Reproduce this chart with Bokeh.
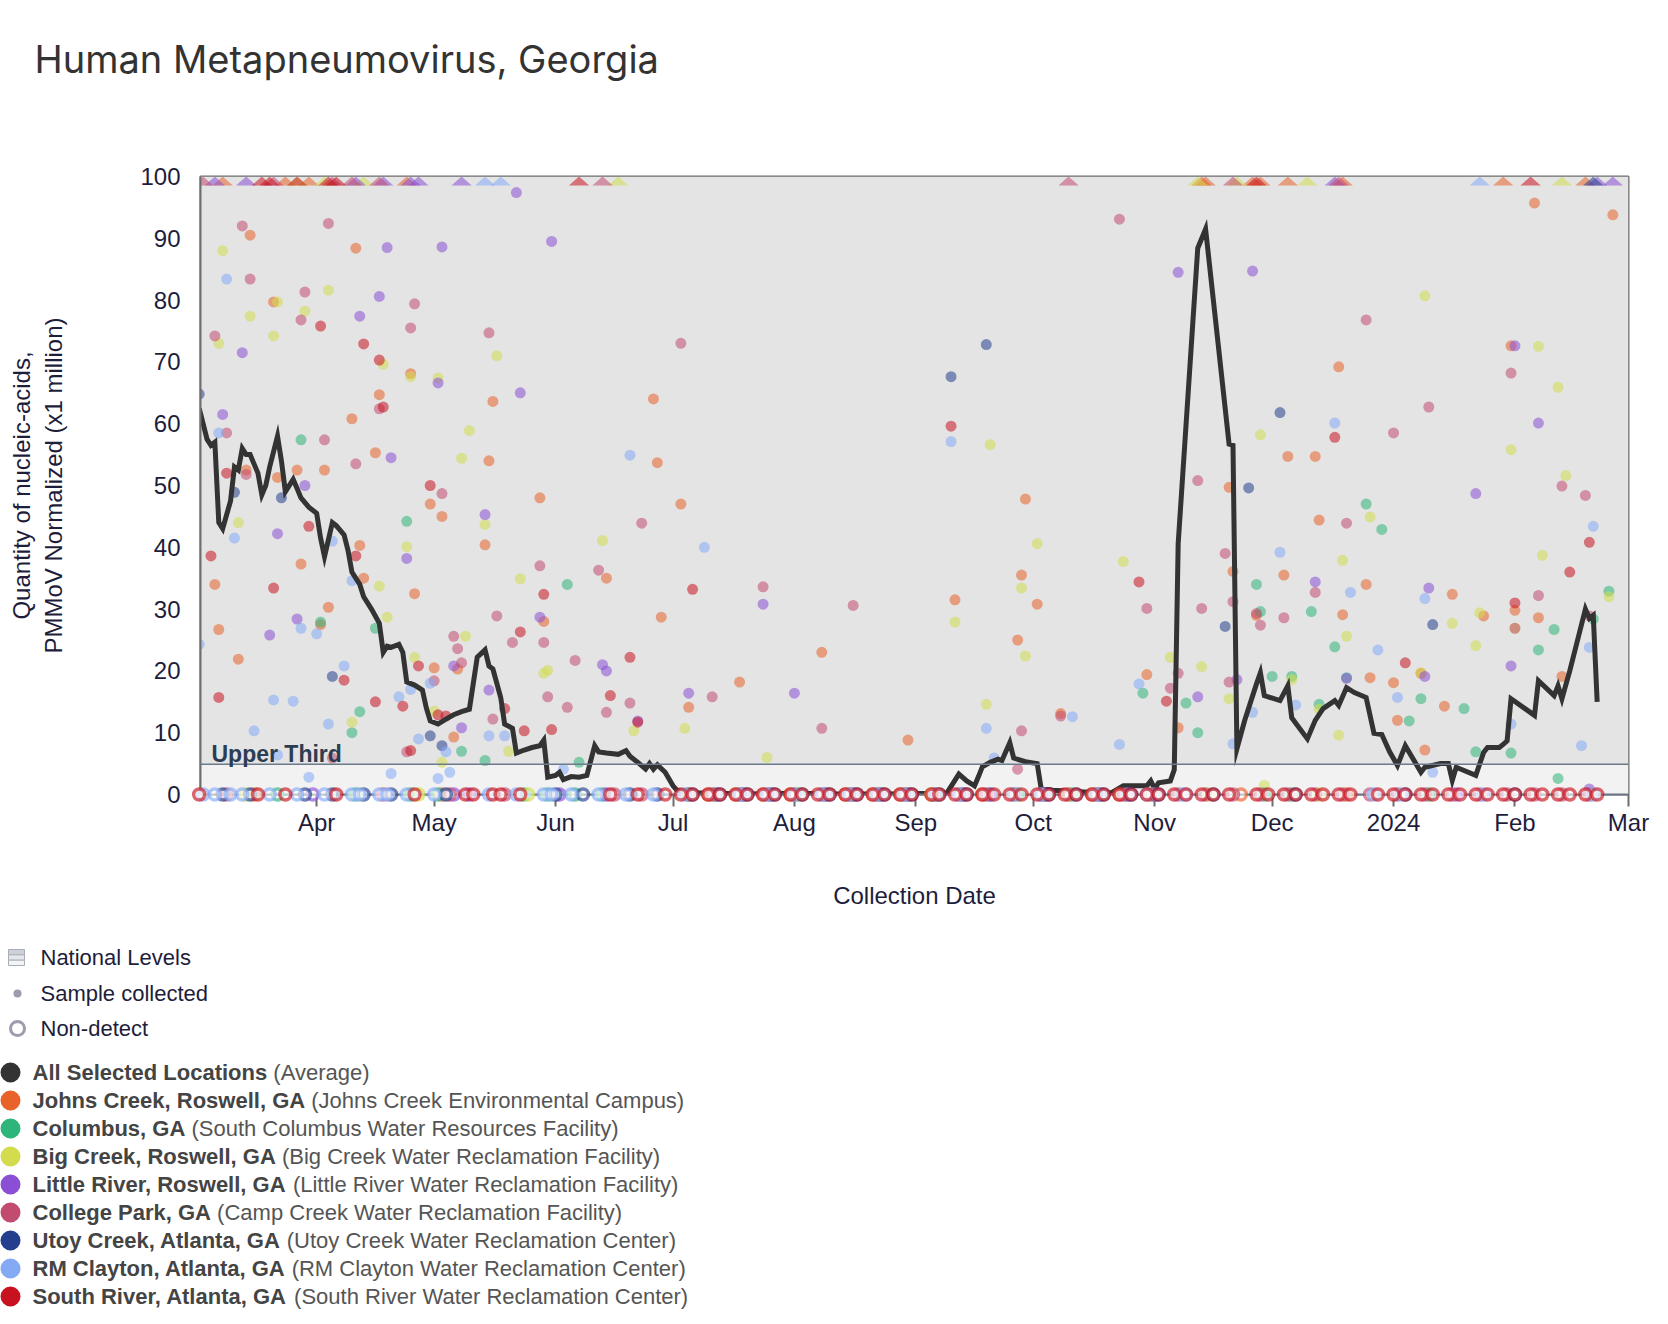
from datetime import datetime
from bokeh.plotting import figure
from bokeh.models import Range1d, FixedTicker, BoxAnnotation, Span, Label, DatetimeTickFormatter
from bokeh.layouts import column
from bokeh.embed import file_html
from bokeh.resources import INLINE
from bokeh.core.properties import value

# ---------------- text ----------------
TITLE = "Human Metapneumovirus, Georgia"
Y_LABEL = "Quantity of nucleic-acids,\nPMMoV Normalized (x1 million)"
X_LABEL = "Collection Date"
UPPER_THIRD_TEXT = "Upper Third"

# ---------------- axes ----------------
X_START = "2023-03-02T08:00"
X_END = "2024-03-01"
Y_TICKS = [0, 10, 20, 30, 40, 50, 60, 70, 80, 90, 100]
X_TICK_DATES = ["2023-04-01", "2023-05-01", "2023-06-01", "2023-07-01", "2023-08-01", "2023-09-01",
                "2023-10-01", "2023-11-01", "2023-12-01", "2024-01-01", "2024-02-01", "2024-03-01"]
X_TICK_LABELS = ["Apr", "May", "Jun", "Jul", "Aug", "Sep", "Oct", "Nov", "Dec", "2024", "Feb", "Mar"]
UPPER_THIRD = 4.9

# ---------------- average line ----------------
average = [("2023-03-02",62.5),("2023-03-04",57.5),("2023-03-05",56.5),("2023-03-06",57.0),("2023-03-07",44.0),
    ("2023-03-08",43.0),("2023-03-10",47.5),("2023-03-11",53.0),("2023-03-12",52.5),("2023-03-13",56.0),
    ("2023-03-14",55.0),("2023-03-15",55.0),("2023-03-17",52.0),("2023-03-18",48.5),("2023-03-19",50.0),
    ("2023-03-20",53.0),("2023-03-22",58.0),("2023-03-23",54.0),("2023-03-24",49.0),("2023-03-26",51.0),
    ("2023-03-27",49.5),("2023-03-28",48.0),("2023-03-30",46.5),("2023-04-01",45.5),("2023-04-02",41.5),
    ("2023-04-03",38.5),("2023-04-05",44.0),("2023-04-06",43.5),("2023-04-08",42.0),("2023-04-09",39.5),
    ("2023-04-10",36.0),("2023-04-12",34.0),("2023-04-13",32.0),("2023-04-15",30.0),("2023-04-17",27.7),
    ("2023-04-18",23.0),("2023-04-19",24.0),("2023-04-20",23.8),("2023-04-22",24.3),("2023-04-23",23.0),
    ("2023-04-24",18.2),("2023-04-26",17.7),("2023-04-28",16.9),("2023-04-29",14.0),("2023-04-30",11.9),
    ("2023-05-02",11.4),("2023-05-04",12.2),("2023-05-06",12.9),("2023-05-08",13.4),("2023-05-10",13.8),
    ("2023-05-12",22.2),("2023-05-14",23.4),("2023-05-15",20.8),("2023-05-16",20.3),("2023-05-18",15.7),
    ("2023-05-19",11.4),("2023-05-21",10.7),("2023-05-22",6.7),("2023-05-24",7.2),("2023-05-26",7.6),
    ("2023-05-28",7.9),("2023-05-29",8.8),("2023-05-30",2.8),("2023-06-01",3.1),("2023-06-02",3.6),
    ("2023-06-03",2.4),("2023-06-05",2.9),("2023-06-07",2.8),("2023-06-09",3.1),("2023-06-11",7.9),
    ("2023-06-12",6.9),("2023-06-14",6.7),("2023-06-17",6.5),("2023-06-19",7.1),("2023-06-20",6.2),
    ("2023-06-22",5.2),("2023-06-24",4.1),("2023-06-25",5.0),("2023-06-26",4.1),("2023-06-27",4.8),
    ("2023-06-29",3.6),("2023-07-01",1.4),("2023-07-02",0.7),("2023-07-05",0.3),("2023-07-12",0.2),
    ("2023-07-20",0.1),("2023-08-01",0.2),("2023-08-12",0.1),("2023-08-25",0.1),("2023-09-05",0.2),
    ("2023-09-09",0.3),("2023-09-12",3.3),("2023-09-14",2.2),("2023-09-16",1.4),("2023-09-17",2.9),
    ("2023-09-18",4.5),("2023-09-20",5.2),("2023-09-22",5.7),("2023-09-23",5.5),("2023-09-25",8.4),
    ("2023-09-26",5.9),("2023-09-29",5.3),("2023-10-02",5.0),("2023-10-03",1.0),("2023-10-06",0.7),
    ("2023-10-12",0.5),("2023-10-17",0.3),("2023-10-21",0.3),("2023-10-24",1.4),("2023-10-30",1.4),
    ("2023-10-31",2.2),("2023-11-01",0.9),("2023-11-02",1.9),("2023-11-05",2.2),("2023-11-06",4.0),
    ("2023-11-07",40.6),("2023-11-12",88.4),("2023-11-14",91.5),("2023-11-20",56.7),("2023-11-21",56.5),
    ("2023-11-22",7.4),("2023-11-24",12.0),("2023-11-27",17.9),("2023-11-28",19.7),("2023-11-29",16.0),
    ("2023-12-03",15.2),("2023-12-05",17.6),("2023-12-06",12.4),("2023-12-10",9.0),("2023-12-12",12.0),
    ("2023-12-14",13.9),("2023-12-17",15.2),("2023-12-18",14.4),("2023-12-20",17.3),("2023-12-22",16.5),
    ("2023-12-25",15.7),("2023-12-27",9.9),("2023-12-29",9.7),("2023-12-31",6.9),("2024-01-02",4.7),
    ("2024-01-04",7.9),("2024-01-08",3.6),("2024-01-09",4.4),("2024-01-13",5.0),("2024-01-15",5.0),
    ("2024-01-16",2.3),("2024-01-17",4.4),("2024-01-22",3.1),("2024-01-24",6.8),("2024-01-25",7.6),
    ("2024-01-28",7.6),("2024-01-29",8.1),("2024-01-30",8.7),("2024-01-31",15.5),("2024-02-06",12.8),
    ("2024-02-07",18.4),("2024-02-11",16.0),("2024-02-12",17.6),("2024-02-13",15.5),("2024-02-15",20.0),
    ("2024-02-17",25.0),("2024-02-19",30.0),("2024-02-20",28.5),("2024-02-21",29.0),("2024-02-22",15.0)]

# ---------------- sites: detections (date, value) ----------------
johns_creek = [("2023-03-06",34.0),("2023-03-07",26.7),("2023-03-12",21.9),("2023-03-14",52.5),("2023-03-15",90.5),
    ("2023-03-21",79.7),("2023-03-22",51.3),("2023-03-27",52.5),("2023-03-28",37.3),("2023-04-02",27.5),
    ("2023-04-03",52.5),("2023-04-04",30.3),("2023-04-10",60.8),("2023-04-11",88.4),("2023-04-12",40.3),
    ("2023-04-13",35.0),("2023-04-16",55.3),("2023-04-17",64.7),("2023-04-25",68.1),("2023-04-26",32.5),
    ("2023-04-30",47.0),("2023-05-01",20.5),("2023-05-03",45.0),("2023-05-06",9.3),("2023-05-07",20.3),
    ("2023-05-14",40.4),("2023-05-15",54.0),("2023-05-16",63.6),("2023-05-28",48.0),("2023-05-29",28.0),
    ("2023-06-14",35.0),("2023-06-26",64.0),("2023-06-27",53.7),("2023-06-28",28.7),("2023-07-03",47.0),
    ("2023-07-05",14.1),("2023-07-18",18.2),("2023-08-08",23.0),("2023-08-30",8.8),("2023-09-11",31.5),
    ("2023-09-27",25.0),("2023-09-28",35.5),("2023-09-29",47.8),("2023-10-02",30.8),("2023-10-08",13.1),
    ("2023-10-30",19.4),("2023-11-07",10.8),("2023-11-20",49.7),("2023-11-21",36.1),("2023-11-27",29.0),
    ("2023-12-04",35.5),("2023-12-05",54.7),("2023-12-12",54.7),("2023-12-13",44.4),("2023-12-18",69.2),
    ("2023-12-19",29.1),("2023-12-25",34.0),("2023-12-26",18.9),("2024-01-01",18.1),("2024-01-02",12.0),
    ("2024-01-08",19.6),("2024-01-09",7.2),("2024-01-14",14.3),("2024-01-16",32.4),("2024-01-24",28.9),
    ("2024-01-31",72.6),("2024-02-01",29.8),("2024-02-06",95.7),("2024-02-07",28.6),("2024-02-13",19.1),
    ("2024-02-26",93.8)]
columbus = [("2023-03-28",57.4),("2023-04-02",27.9),("2023-04-10",10.0),("2023-04-12",13.4),("2023-04-16",26.9),
    ("2023-04-24",44.2),("2023-05-08",7.0),("2023-05-14",5.5),("2023-06-04",34.0),("2023-06-07",5.2),
    ("2023-10-29",16.4),("2023-11-09",14.8),("2023-11-12",10.0),("2023-11-27",34.0),("2023-11-28",29.6),
    ("2023-12-01",19.1),("2023-12-06",19.1),("2023-12-11",29.6),("2023-12-13",14.6),("2023-12-17",23.9),
    ("2023-12-20",18.9),("2023-12-25",47.0),("2023-12-29",42.9),("2024-01-05",11.9),("2024-01-08",15.5),
    ("2024-01-19",13.9),("2024-01-22",6.9),("2024-01-31",6.7),("2024-02-07",23.4),("2024-02-11",26.7),
    ("2024-02-12",2.6),("2024-02-21",28.4),("2024-02-25",32.9)]
big_creek = [("2023-03-07",73.0),("2023-03-08",88.0),("2023-03-12",44.0),("2023-03-15",77.4),("2023-03-21",74.2),
    ("2023-03-22",79.7),("2023-03-29",78.2),("2023-04-04",81.6),("2023-04-10",11.7),("2023-04-17",33.7),
    ("2023-04-18",69.6),("2023-04-19",28.7),("2023-04-24",40.1),("2023-04-25",67.6),("2023-04-26",22.2),
    ("2023-05-01",13.5),("2023-05-02",67.4),("2023-05-03",5.2),("2023-05-08",54.4),("2023-05-09",25.6),
    ("2023-05-10",58.9),("2023-05-14",43.7),("2023-05-17",71.0),("2023-05-20",7.0),("2023-05-23",34.9),
    ("2023-05-29",19.6),("2023-05-30",20.1),("2023-06-13",41.1),("2023-06-21",10.3),("2023-07-04",10.7),
    ("2023-07-25",6.0),("2023-09-11",27.9),("2023-09-19",14.6),("2023-09-20",56.6),("2023-09-28",33.4),
    ("2023-09-29",22.4),("2023-10-02",40.6),("2023-10-24",37.7),("2023-11-05",22.2),("2023-11-13",20.7),
    ("2023-11-20",15.5),("2023-11-28",58.2),("2023-11-29",1.5),("2023-12-06",18.6),("2023-12-13",13.8),
    ("2023-12-18",9.6),("2023-12-19",37.9),("2023-12-20",25.6),("2023-12-26",44.9),("2024-01-08",19.7),
    ("2024-01-09",80.7),("2024-01-16",27.7),("2024-01-22",24.1),("2024-01-23",29.4),("2024-01-31",55.8),
    ("2024-02-01",26.9),("2024-02-07",72.5),("2024-02-08",38.7),("2024-02-12",65.9),("2024-02-14",51.6),
    ("2024-02-25",32.0)]
little_river = [("2023-03-08",61.5),("2023-03-13",71.5),("2023-03-20",25.8),("2023-03-22",42.2),("2023-03-27",28.4),
    ("2023-03-29",50.0),("2023-04-12",77.4),("2023-04-17",80.6),("2023-04-19",88.5),("2023-04-20",54.5),
    ("2023-04-24",38.2),("2023-05-02",66.6),("2023-05-03",88.6),("2023-05-06",20.8),("2023-05-08",10.8),
    ("2023-05-14",45.3),("2023-05-15",16.9),("2023-05-22",97.4),("2023-05-23",65.0),("2023-05-28",28.7),
    ("2023-05-31",89.5),("2023-06-13",21.0),("2023-06-14",20.0),("2023-06-22",11.9),("2023-07-05",16.4),
    ("2023-07-24",30.8),("2023-08-01",16.4),("2023-11-07",84.5),("2023-11-12",15.8),("2023-11-22",18.6),
    ("2023-11-26",84.7),("2023-12-12",34.4),("2023-12-20",18.8),("2024-01-09",19.1),("2024-01-10",33.4),
    ("2024-01-22",48.7),("2024-01-31",20.8),("2024-02-01",72.6),("2024-02-07",60.1),("2024-02-20",0.9)]
college_park = [("2023-03-06",74.2),("2023-03-09",58.5),("2023-03-13",92.0),("2023-03-14",51.8),("2023-03-15",83.4),
    ("2023-03-28",76.8),("2023-03-29",81.3),("2023-04-03",57.4),("2023-04-04",92.4),("2023-04-05",5.9),
    ("2023-04-11",53.5),("2023-04-17",62.4),("2023-04-24",6.9),("2023-04-25",75.5),("2023-04-26",79.4),
    ("2023-05-01",18.4),("2023-05-03",48.7),("2023-05-06",25.6),("2023-05-07",23.6),("2023-05-08",21.3),
    ("2023-05-15",74.7),("2023-05-16",12.2),("2023-05-17",28.9),("2023-05-21",24.6),("2023-05-28",37.0),
    ("2023-05-29",24.6),("2023-05-30",15.8),("2023-06-04",14.1),("2023-06-06",21.7),("2023-06-12",36.3),
    ("2023-06-14",13.3),("2023-06-20",14.8),("2023-06-23",43.9),("2023-07-03",73.0),("2023-07-11",15.8),
    ("2023-07-24",33.6),("2023-08-08",10.7),("2023-08-16",30.6),("2023-09-27",4.1),("2023-09-28",10.3),
    ("2023-10-08",12.7),("2023-10-23",93.1),("2023-10-30",30.1),("2023-11-05",17.2),("2023-11-07",19.6),
    ("2023-11-12",50.8),("2023-11-13",30.1),("2023-11-19",39.0),("2023-11-20",18.2),("2023-11-21",31.2),
    ("2023-11-27",29.3),("2023-11-28",27.4),("2023-12-04",28.6),("2023-12-12",32.7),("2023-12-20",43.9),
    ("2023-12-25",76.8),("2024-01-01",58.5),("2024-01-10",62.7),("2024-01-31",68.2),("2024-02-01",26.9),
    ("2024-02-07",32.2),("2024-02-13",49.9),("2024-02-19",48.4),("2024-02-20",28.9)]
utoy_creek = [("2023-03-02",64.8),("2023-03-11",48.9),("2023-03-23",48.0),("2023-04-05",19.1),("2023-04-30",9.5),
    ("2023-05-03",7.9),("2023-09-10",67.6),("2023-09-19",72.8),("2023-11-19",27.2),("2023-11-25",49.6),
    ("2023-12-03",61.8),("2024-01-11",27.5)]
rm_clayton = [("2023-03-02",24.3),("2023-03-07",58.5),("2023-03-09",83.4),("2023-03-11",41.5),("2023-03-16",10.3),
    ("2023-03-21",15.3),("2023-03-22",6.4),("2023-03-26",15.1),("2023-03-28",26.9),("2023-03-30",2.8),
    ("2023-04-01",26.0),("2023-04-04",11.4),("2023-04-05",41.0),("2023-04-08",20.8),("2023-04-10",34.6),
    ("2023-04-20",3.4),("2023-04-22",15.8),("2023-04-25",17.0),("2023-04-27",9.0),("2023-04-30",18.0),
    ("2023-05-02",2.6),("2023-05-04",6.9),("2023-05-05",3.6),("2023-05-15",9.5),("2023-05-19",9.5),
    ("2023-06-03",4.1),("2023-06-20",54.9),("2023-07-09",40.0),("2023-09-10",57.1),("2023-09-19",10.7),
    ("2023-09-21",5.9),("2023-10-11",12.6),("2023-10-23",8.1),("2023-10-28",17.9),("2023-11-21",8.2),
    ("2023-11-26",13.3),("2023-12-03",39.2),("2023-12-07",14.5),("2023-12-17",60.1),("2023-12-21",32.7),
    ("2023-12-28",23.4),("2024-01-02",15.7),("2024-01-09",31.7),("2024-01-11",3.6),("2024-01-31",11.4),
    ("2024-02-18",7.9),("2024-02-20",23.8),("2024-02-21",43.4)]
south_river = [("2023-03-05",38.6),("2023-03-07",15.7),("2023-03-09",52.0),("2023-03-21",33.4),("2023-03-30",43.4),
    ("2023-04-02",75.8),("2023-04-08",18.5),("2023-04-11",38.6),("2023-04-13",72.9),("2023-04-16",15.0),
    ("2023-04-17",70.3),("2023-04-18",62.7),("2023-04-23",14.3),("2023-04-25",7.1),("2023-04-27",20.8),
    ("2023-04-30",50.0),("2023-05-02",12.9),("2023-05-04",12.7),("2023-05-19",13.9),("2023-05-23",26.3),
    ("2023-05-24",10.3),("2023-05-29",32.4),("2023-05-31",10.5),("2023-06-15",16.0),("2023-06-20",22.2),
    ("2023-06-22",11.7),("2023-07-06",33.2),("2023-09-10",59.6),("2023-10-28",34.4),("2023-11-04",15.1),
    ("2023-12-17",57.8),("2024-01-04",21.3),("2024-02-01",31.0),("2024-02-15",36.0),("2024-02-20",40.8)]

# ---------------- sites: values above 100 (dates) ----------------
johns_creek_over = ["2023-03-08","2023-03-24","2023-03-30","2023-04-24","2023-11-13","2023-11-14","2023-11-26",
                    "2023-11-28","2023-12-05","2023-12-19","2024-01-29","2024-02-19"]
south_river_over = ["2023-03-18","2023-03-20","2023-03-27","2023-04-04","2023-04-06","2023-06-07","2023-11-27","2024-02-05"]
college_park_over = ["2023-03-03","2023-03-21","2023-04-05","2023-04-10","2023-04-17","2023-06-13","2023-10-10",
                     "2023-11-21","2023-12-18"]
little_river_over = ["2023-03-06","2023-03-14","2023-04-11","2023-04-18","2023-04-25","2023-04-27","2023-05-08",
                     "2023-12-17","2024-02-22","2024-02-26"]
big_creek_over = ["2023-03-27","2023-04-03","2023-04-13","2023-06-17","2023-11-12","2023-11-22","2023-12-10","2024-02-13"]
rm_clayton_over = ["2023-05-14","2023-05-18","2024-01-23"]
utoy_creek_over = ["2024-02-21"]
columbus_over = []

# ---------------- sites: non-detects (dates) ----------------
south_river_nd = ["2023-03-02","2023-03-17","2023-03-24","2023-04-06","2023-04-26","2023-05-09","2023-05-11","2023-05-16",
    "2023-05-18","2023-05-23","2023-06-15","2023-06-22","2023-06-29","2023-07-03","2023-07-06","2023-07-10","2023-07-13",
    "2023-07-17","2023-07-20","2023-07-24","2023-07-27","2023-07-31","2023-08-03","2023-08-07","2023-08-10","2023-08-14",
    "2023-08-17","2023-08-21","2023-08-24","2023-08-28","2023-08-31","2023-09-05","2023-09-07","2023-09-11","2023-09-14",
    "2023-09-18","2023-09-21","2023-09-25","2023-09-28","2023-10-02","2023-10-05","2023-10-09","2023-10-12","2023-10-16",
    "2023-10-19","2023-10-23","2023-10-26","2023-10-30","2023-11-02","2023-11-06","2023-11-09","2023-11-13","2023-11-16",
    "2023-11-20","2023-11-27","2023-11-30","2023-12-04","2023-12-07","2023-12-11","2023-12-14","2023-12-18","2023-12-21",
    "2023-12-28","2024-01-01","2024-01-04","2024-01-08","2024-01-11","2024-01-15","2024-01-18","2024-01-22","2024-01-25",
    "2024-01-29","2024-02-01","2024-02-05","2024-02-08","2024-02-12","2024-02-15","2024-02-19","2024-02-22"]
college_park_nd = ["2023-03-09","2023-04-18","2023-05-05","2023-05-19","2023-06-16","2023-06-23","2023-07-05","2023-07-11",
    "2023-07-18","2023-07-25","2023-08-01","2023-08-08","2023-08-15","2023-08-22","2023-08-29","2023-09-06","2023-09-12",
    "2023-09-19","2023-09-26","2023-10-03","2023-10-10","2023-10-17","2023-10-24","2023-10-31","2023-11-07","2023-11-14",
    "2023-11-21","2023-11-28","2023-12-05","2023-12-12","2023-12-19","2023-12-26","2024-01-02","2024-01-09","2024-01-16",
    "2024-01-23","2024-01-30","2024-02-06","2024-02-13","2024-02-20"]
rm_clayton_nd = ["2023-03-03","2023-03-06","2023-03-10","2023-03-13","2023-03-20","2023-03-27","2023-04-03","2023-04-10",
    "2023-04-12","2023-04-17","2023-04-19","2023-04-24","2023-05-01","2023-05-15","2023-05-22","2023-05-29","2023-05-31",
    "2023-06-05","2023-06-12","2023-06-19","2023-06-26","2023-07-04","2023-07-18","2023-07-25","2023-08-01","2023-08-08",
    "2023-08-15","2023-08-22","2023-08-29","2023-09-06","2023-09-12","2023-09-26","2023-10-03","2023-10-17","2023-10-30",
    "2023-11-08","2023-11-09","2023-12-27","2024-01-03","2024-01-24","2024-02-21"]
utoy_creek_nd = ["2023-03-08","2023-03-15","2023-03-29","2023-04-05","2023-04-13","2023-04-20","2023-05-04","2023-06-01",
    "2023-06-08","2023-06-20","2023-06-27","2023-07-06","2023-07-13","2023-07-20","2023-07-27","2023-08-03","2023-08-10",
    "2023-08-17","2023-08-24","2023-08-31","2023-09-07","2023-09-14","2023-10-05","2023-10-12","2023-10-19","2023-10-26",
    "2023-11-02","2023-11-16","2023-12-07","2024-01-04","2024-02-01"]
columbus_nd = ["2023-03-22","2023-04-11","2023-04-25","2023-05-02","2023-05-24","2023-05-30","2023-06-06","2023-06-13",
    "2023-07-05","2023-07-12","2023-07-19","2023-07-26","2023-08-02","2023-08-09","2023-08-16","2023-08-23","2023-08-30",
    "2023-09-06","2023-09-13","2023-09-20","2023-09-27","2023-10-04","2023-10-11","2023-10-18","2023-10-25","2023-11-01",
    "2023-11-29","2023-12-06","2024-01-10"]
big_creek_nd = ["2023-03-14","2023-04-27","2023-05-25","2023-07-11","2023-07-18","2023-08-01","2023-08-15","2023-08-22",
    "2023-08-29","2023-09-05","2023-10-10","2023-10-17","2023-10-31","2023-11-15","2023-12-13"]
little_river_nd = ["2023-03-31","2023-05-06","2023-05-10","2023-06-02","2023-06-14","2023-07-12","2023-07-19","2023-07-26",
    "2023-08-09","2023-08-16","2023-08-23","2023-08-30","2023-09-13","2023-09-20","2023-10-04","2023-10-18","2023-10-25",
    "2023-11-01","2024-01-17"]
johns_creek_nd = ["2023-03-16","2023-05-03","2023-07-10","2023-07-17","2023-07-24","2023-07-31","2023-08-14","2023-08-21",
    "2023-08-28","2023-09-05","2023-09-18","2023-10-16","2023-10-23","2023-11-23","2023-12-20"]

# ---------------- legend ----------------
site_names = ["Johns Creek, Roswell, GA", "Columbus, GA", "Big Creek, Roswell, GA", "Little River, Roswell, GA",
              "College Park, GA", "Utoy Creek, Atlanta, GA", "RM Clayton, Atlanta, GA", "South River, Atlanta, GA"]
site_plants = ["(Johns Creek Environmental Campus)", "(South Columbus Water Resources Facility)",
               "(Big Creek Water Reclamation Facility)", "(Little River Water Reclamation Facility)",
               "(Camp Creek Water Reclamation Facility)", "(Utoy Creek Water Reclamation Center)",
               "(RM Clayton Water Reclamation Center)", "(South River Water Reclamation Center)"]
site_colors = ["#E8622A", "#2DB57A", "#D2DC4C", "#8B4FD6", "#C24B70", "#243F8E", "#84AAF6", "#C8121F"]
AVG_NAME, AVG_NOTE, AVG_COLOR = "All Selected Locations", "(Average)", "#333333"
KEY_LABELS = ["National Levels", "Sample collected", "Non-detect"]

detections = [johns_creek, columbus, big_creek, little_river, college_park, utoy_creek, rm_clayton, south_river]
overs = [johns_creek_over, columbus_over, big_creek_over, little_river_over, college_park_over, utoy_creek_over,
         rm_clayton_over, south_river_over]
nondetects = [johns_creek_nd, columbus_nd, big_creek_nd, little_river_nd, college_park_nd, utoy_creek_nd,
              rm_clayton_nd, south_river_nd]

# ---------------- helpers ----------------
EPOCH = datetime(1970, 1, 1)
DAY_MS = 86400000.0


def dt(s):
    return datetime.fromisoformat(s)


def ms(d):
    return (d - EPOCH).total_seconds() * 1000.0


AXIS_FONT = "Liberation Sans"
NAVY = "#1e1d3b"

# shared geometry (page pixels; the Bokeh page has no body margin)
W = 1660
FRAME_L, FRAME_R = 200, 1628
BORDER_R = W - FRAME_R


def overlay_fig(height):
    """A pixel-coordinate figure whose frame is aligned with the main plot frame."""
    f = figure(width=W, height=height, x_range=Range1d(FRAME_L, FRAME_R), y_range=Range1d(height, 0),
               output_backend="svg", toolbar_location=None,
               min_border_left=FRAME_L, min_border_right=BORDER_R, min_border_top=0, min_border_bottom=0)
    f.axis.visible = False
    f.grid.visible = False
    f.outline_line_color = None
    return f


# ---------------- title figure ----------------
TH = 108
tfig = overlay_fig(TH)
r = tfig.text(x=[34], y=[58], text=[TITLE], text_font=value("Inter"), text_font_size="38px",
              text_color="#333333", text_baseline="alphabetic", text_align="left")
r.level = "overlay"

# ---------------- main figure ----------------
p = figure(width=W, height=822, x_axis_type="datetime",
           x_range=Range1d(dt(X_START), dt(X_END)), y_range=Range1d(0, 100),
           output_backend="svg", toolbar_location=None,
           min_border_left=FRAME_L, min_border_right=BORDER_R, min_border_top=68, min_border_bottom=136)
p.grid.visible = False
p.outline_line_color = "#6e6e6e"
p.outline_line_width = 2
p.background_fill_color = "white"

p.add_layout(BoxAnnotation(bottom=UPPER_THIRD, fill_color="#e4e4e4", fill_alpha=1.0, line_alpha=0, level="underlay"))
p.add_layout(BoxAnnotation(top=UPPER_THIRD, fill_color="#f2f2f2", fill_alpha=1.0, line_alpha=0, level="underlay"))
p.add_layout(Span(location=UPPER_THIRD, dimension="width", line_color="#6c7b8b", line_width=1.5))
p.add_layout(Label(x=dt(X_START), y=UPPER_THIRD, x_offset=11, y_offset=10, text=UPPER_THIRD_TEXT,
                   text_font=AXIS_FONT, text_font_style="bold", text_font_size="23px",
                   text_color="#2b3d52", text_baseline="alphabetic"))

# detections
for pts, c in zip(detections, site_colors):
    p.scatter([dt(d) for d, v in pts], [v for d, v in pts], size=11, fill_color=c, fill_alpha=0.55, line_color=None)

# above-range triangles drawn at the top edge
TRI_HALF_DAYS = 2.6
TRI_H = 1.45
for dates, c in zip(overs, site_colors):
    if not dates:
        continue
    xs = [[ms(dt(d)) - TRI_HALF_DAYS * DAY_MS, ms(dt(d)) + TRI_HALF_DAYS * DAY_MS, ms(dt(d))] for d in dates]
    ys = [[100 - TRI_H, 100 - TRI_H, 100] for _ in dates]
    p.patches(xs, ys, fill_color=c, fill_alpha=0.55, line_color=None)

# average line
p.line([dt(d) for d, v in average], [v for d, v in average], line_color=AVG_COLOR, line_width=5, line_join="miter")

# non-detects
for dates, c in zip(nondetects, site_colors):
    r = p.scatter([dt(d) for d in dates], [0] * len(dates), size=11, fill_color="white", fill_alpha=0.6,
                  line_color=c, line_width=3.5, line_alpha=0.65)
    r.level = "overlay"

# axes
ya = p.yaxis[0]
ya.ticker = FixedTicker(ticks=Y_TICKS)
ya.major_tick_line_color = None
ya.minor_tick_line_color = None
ya.major_label_standoff = 14
ya.axis_line_color = "#6e6e6e"
ya.axis_line_width = 2
ya.major_label_text_font = AXIS_FONT
ya.major_label_text_font_size = "24px"
ya.major_label_text_color = NAVY
ya.axis_label = Y_LABEL
ya.axis_label_text_font = AXIS_FONT
ya.axis_label_text_font_size = "24px"
ya.axis_label_text_font_style = "normal"
ya.axis_label_text_color = NAVY
ya.axis_label_standoff = 70

xa = p.xaxis[0]
tick_ms = [ms(dt(d)) for d in X_TICK_DATES]
xa.ticker = FixedTicker(ticks=tick_ms)
xa.formatter = DatetimeTickFormatter(months="%b", days="%b", years="%Y")
xa.major_label_overrides = {t: lab for t, lab in zip(tick_ms, X_TICK_LABELS)}
xa.major_tick_out = 12
xa.major_tick_in = 0
xa.major_tick_line_color = "#6e6e6e"
xa.major_tick_line_width = 2
xa.minor_tick_line_color = None
xa.axis_line_color = "#6b7785"
xa.axis_line_width = 2
xa.major_label_standoff = 2
xa.major_label_text_font = AXIS_FONT
xa.major_label_text_font_size = "24px"
xa.major_label_text_color = NAVY
xa.axis_label = X_LABEL
xa.axis_label_text_font = AXIS_FONT
xa.axis_label_text_font_size = "24px"
xa.axis_label_text_font_style = "normal"
xa.axis_label_text_color = NAVY
xa.axis_label_standoff = 43

# ---------------- legend figure ----------------
LH = 386
lfig = overlay_fig(LH)
renderers = []
# national levels icon
renderers.append(lfig.quad(left=[8, 8, 8], right=[24, 24, 24], top=[19, 24.3, 29.7], bottom=[24.3, 29.7, 35],
                           fill_color=["#cdd1d8", "#e4e6ea", "#f3f4f6"], line_color="#a9adb8", line_width=1))
GRAY = "#9b9dae"
# key symbols drawn as rounded quads (pixel coordinates)
renderers.append(lfig.quad(left=[13], right=[21], top=[59], bottom=[67], border_radius=4,
                           fill_color=GRAY, line_color=None))
renderers.append(lfig.quad(left=[10], right=[24], top=[91], bottom=[105], border_radius=7,
                           fill_color="white", line_color=GRAY, line_width=3))
renderers.append(lfig.text(x=[40, 40, 40], y=[27, 63, 98], text=KEY_LABELS,
                           text_font=value(AXIS_FONT), text_font_size="22px", text_color=NAVY,
                           text_baseline="middle"))

BOLD_W = dict(zip("ABCDEFGHIJKLMNOPQRSTUVWXYZ", [722, 722, 722, 722, 667, 611, 778, 722, 278, 556, 722, 611, 833,
                                                 722, 778, 667, 778, 722, 667, 611, 722, 667, 944, 667, 667, 611]))
BOLD_W.update(dict(zip("abcdefghijklmnopqrstuvwxyz", [556, 611, 556, 611, 556, 333, 611, 611, 278, 278, 556, 278, 889,
                                                      611, 611, 611, 611, 389, 556, 333, 611, 556, 778, 556, 556, 500])))
BOLD_W.update({" ": 278, ",": 278, ".": 278, "(": 333, ")": 333, "-": 333})
LEG_SIZE = 22


def bold_width(s):
    return sum(BOLD_W.get(ch, 600) for ch in s) / 1000.0 * LEG_SIZE


names = [AVG_NAME] + site_names
notes = [AVG_NOTE] + site_plants
cols = [AVG_COLOR] + site_colors
row_y = [142 + 28 * i for i in range(len(names))]
DOT_R = 10
DOT_CX = 10
renderers.append(lfig.quad(left=[DOT_CX - DOT_R] * len(names), right=[DOT_CX + DOT_R] * len(names),
                           top=[y - DOT_R for y in row_y], bottom=[y + DOT_R for y in row_y],
                           border_radius=DOT_R, fill_color=cols, line_color=None))
x0 = 32
renderers.append(lfig.text(x=[x0] * len(names), y=row_y, text=names, text_font=value(AXIS_FONT),
                           text_font_style="bold", text_font_size="22px", text_color="#444444",
                           text_baseline="middle"))
renderers.append(lfig.text(x=[x0 + bold_width(n) + 0.278 * LEG_SIZE for n in names], y=row_y, text=notes,
                           text_font=value(AXIS_FONT), text_font_size="22px", text_color="#555555",
                           text_baseline="middle"))
for rr in renderers:
    rr.level = "overlay"

layout = column(tfig, p, lfig)
open("out.html", "w").write(file_html(layout, INLINE))
